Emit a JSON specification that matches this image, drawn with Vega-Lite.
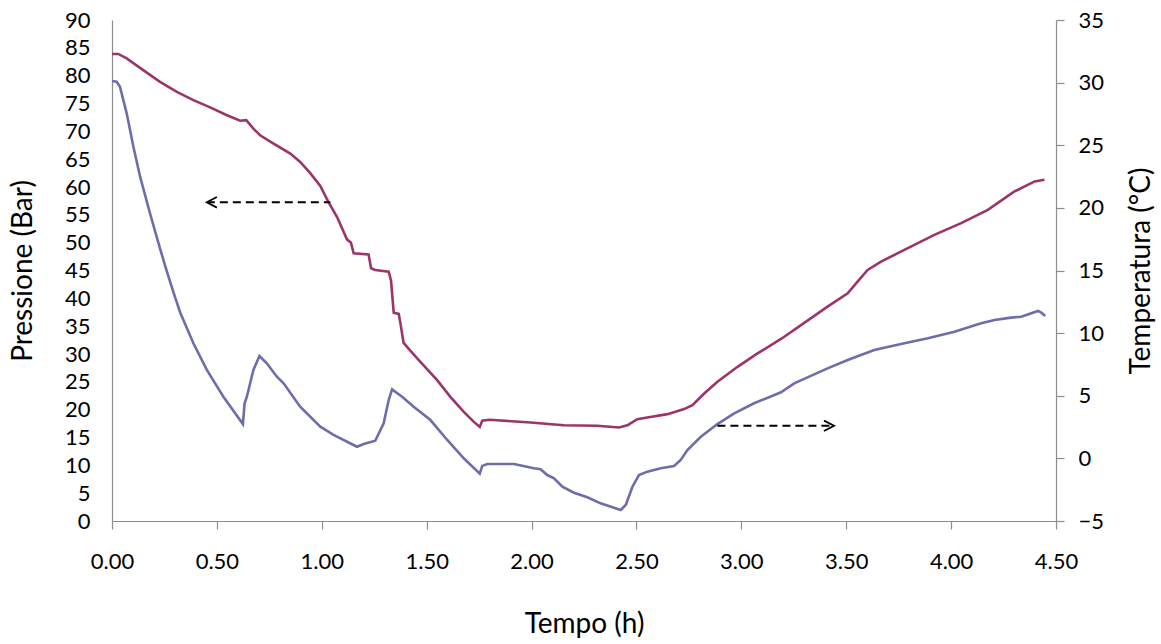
{
  "$schema": "https://vega.github.io/schema/vega-lite/v6.json",
  "width": 944,
  "height": 501,
  "autosize": {"type": "none"},
  "padding": {"left": 112, "top": 20, "right": 105, "bottom": 123},
  "background": "white",
  "config": {
    "font": "Lato",
    "view": {"stroke": null},
    "axis": {
      "labelFont": "Lato", "titleFont": "Lato", "labelColor": "#000000", "titleColor": "#000000",
      "labelFontSize": 22, "titleFontSize": 28, "titleFontWeight": "normal",
      "domainColor": "#8c8c8c", "tickColor": "#8c8c8c", "domainWidth": 1.2, "tickWidth": 1.2, "grid": false,
      "labelFlush": false, "labelOverlap": false, "labelBound": false
    }
  },
  "datasets": {
    "pressione": [
      {"t":0.000,"p":83.9},{"t":0.030,"p":83.9},{"t":0.070,"p":83.1},{"t":0.149,"p":81.0},{"t":0.229,"p":78.9},
      {"t":0.309,"p":77.1},{"t":0.388,"p":75.6},{"t":0.468,"p":74.3},{"t":0.548,"p":72.9},{"t":0.611,"p":71.9},
      {"t":0.640,"p":72.0},{"t":0.674,"p":70.5},{"t":0.706,"p":69.3},{"t":0.770,"p":67.8},{"t":0.850,"p":66.0},
      {"t":0.897,"p":64.5},{"t":0.945,"p":62.5},{"t":0.993,"p":60.2},{"t":1.032,"p":57.3},{"t":1.073,"p":54.6},
      {"t":1.120,"p":50.6},{"t":1.139,"p":50.0},{"t":1.152,"p":48.1},{"t":1.223,"p":47.9},{"t":1.235,"p":45.4},
      {"t":1.255,"p":45.1},{"t":1.319,"p":44.8},{"t":1.330,"p":43.2},{"t":1.343,"p":37.4},{"t":1.367,"p":37.2},
      {"t":1.375,"p":35.5},{"t":1.390,"p":32.0},{"t":1.422,"p":30.6},{"t":1.470,"p":28.6},{"t":1.550,"p":25.3},
      {"t":1.613,"p":22.3},{"t":1.677,"p":19.6},{"t":1.725,"p":17.8},{"t":1.753,"p":16.9},{"t":1.765,"p":18.0},
      {"t":1.800,"p":18.2},{"t":1.836,"p":18.1},{"t":1.995,"p":17.7},{"t":2.154,"p":17.2},{"t":2.313,"p":17.1},
      {"t":2.417,"p":16.8},{"t":2.457,"p":17.2},{"t":2.504,"p":18.3},{"t":2.552,"p":18.6},{"t":2.648,"p":19.2},
      {"t":2.727,"p":20.1},{"t":2.767,"p":20.8},{"t":2.823,"p":22.9},{"t":2.886,"p":25.0},{"t":2.982,"p":27.7},
      {"t":3.077,"p":30.1},{"t":3.189,"p":32.7},{"t":3.300,"p":35.6},{"t":3.411,"p":38.5},{"t":3.507,"p":40.9},
      {"t":3.554,"p":43.0},{"t":3.602,"p":45.1},{"t":3.666,"p":46.6},{"t":3.777,"p":48.7},{"t":3.920,"p":51.4},
      {"t":4.048,"p":53.5},{"t":4.175,"p":55.9},{"t":4.302,"p":59.2},{"t":4.398,"p":61.0},{"t":4.445,"p":61.3}
    ],
    "temperatura": [
      {"t":0.000,"T":30.13},{"t":0.022,"T":30.07},{"t":0.038,"T":29.67},{"t":0.070,"T":27.55},{"t":0.102,"T":24.88},
      {"t":0.134,"T":22.49},{"t":0.181,"T":19.57},{"t":0.229,"T":16.75},{"t":0.261,"T":14.95},{"t":0.293,"T":13.25},
      {"t":0.325,"T":11.65},{"t":0.388,"T":9.19},{"t":0.452,"T":7.06},{"t":0.531,"T":4.92},{"t":0.624,"T":2.74},
      {"t":0.632,"T":4.40},{"t":0.643,"T":4.92},{"t":0.674,"T":7.06},{"t":0.703,"T":8.17},{"t":0.738,"T":7.59},
      {"t":0.786,"T":6.52},{"t":0.818,"T":5.99},{"t":0.897,"T":4.13},{"t":0.993,"T":2.53},{"t":1.056,"T":1.87},
      {"t":1.168,"T":0.93},{"t":1.200,"T":1.15},{"t":1.255,"T":1.41},{"t":1.295,"T":2.80},{"t":1.319,"T":4.66},
      {"t":1.335,"T":5.51},{"t":1.383,"T":4.92},{"t":1.438,"T":4.13},{"t":1.518,"T":3.06},{"t":1.598,"T":1.47},
      {"t":1.677,"T":0.01},{"t":1.753,"T":-1.22},{"t":1.765,"T":-0.60},{"t":1.789,"T":-0.45},{"t":1.916,"T":-0.45},
      {"t":2.011,"T":-0.79},{"t":2.043,"T":-0.87},{"t":2.075,"T":-1.33},{"t":2.107,"T":-1.59},{"t":2.147,"T":-2.26},
      {"t":2.202,"T":-2.74},{"t":2.266,"T":-3.11},{"t":2.329,"T":-3.59},{"t":2.425,"T":-4.12},{"t":2.449,"T":-3.72},
      {"t":2.481,"T":-2.26},{"t":2.512,"T":-1.33},{"t":2.552,"T":-1.06},{"t":2.616,"T":-0.79},{"t":2.679,"T":-0.61},
      {"t":2.711,"T":-0.13},{"t":2.743,"T":0.67},{"t":2.807,"T":1.73},{"t":2.886,"T":2.74},{"t":2.966,"T":3.60},
      {"t":3.061,"T":4.40},{"t":3.189,"T":5.28},{"t":3.252,"T":5.99},{"t":3.411,"T":7.19},{"t":3.507,"T":7.85},
      {"t":3.570,"T":8.25},{"t":3.634,"T":8.65},{"t":3.761,"T":9.13},{"t":3.889,"T":9.59},{"t":4.016,"T":10.11},
      {"t":4.143,"T":10.78},{"t":4.207,"T":11.05},{"t":4.286,"T":11.24},{"t":4.334,"T":11.31},{"t":4.414,"T":11.77},
      {"t":4.430,"T":11.63},{"t":4.449,"T":11.37}
    ],
    "frecciaP": [{"t":0.452,"p":57.25},{"t":1.041,"p":57.25}],
    "puntaP": [{"t":0.500,"p":58.2,"o":1},{"t":0.452,"p":57.25,"o":2},{"t":0.500,"p":56.3,"o":3}],
    "frecciaT": [{"t":2.886,"T":2.60},{"t":3.442,"T":2.60}],
    "puntaT": [{"t":3.394,"T":3.01,"o":1},{"t":3.442,"T":2.60,"o":2},{"t":3.394,"T":2.19,"o":3}]
  },
  "encoding": {
    "x": {
      "field": "t", "type": "quantitative",
      "scale": {"domain": [0, 4.5], "nice": false, "zero": false},
      "axis": {
        "title": "Tempo (h)", "values": [0,0.5,1,1.5,2,2.5,3,3.5,4,4.5], "format": ".2f",
        "tickSize": 8, "labelPadding": 22, "titlePadding": 38
      }
    }
  },
  "layer": [
    {
      "encoding": {
        "y": {
          "field": "p", "type": "quantitative",
          "scale": {"domain": [0, 90], "nice": false},
          "axis": {
            "title": "Pressione (Bar)", "orient": "left",
            "values": [0,5,10,15,20,25,30,35,40,45,50,55,60,65,70,75,80,85,90],
            "ticks": false, "labelPadding": 22, "titlePadding": 27
          }
        }
      },
      "layer": [
        {"data": {"name": "pressione"}, "mark": {"type": "line", "color": "#9c3469", "strokeWidth": 2.6}},
        {"data": {"name": "frecciaP"}, "mark": {"type": "line", "color": "#000000", "strokeWidth": 2, "strokeDash": [8, 5]}},
        {"data": {"name": "puntaP"}, "mark": {"type": "line", "color": "#000000", "strokeWidth": 1.8}, "encoding": {"order": {"field": "o", "type": "quantitative"}}}
      ]
    },
    {
      "encoding": {
        "y": {
          "field": "T", "type": "quantitative",
          "scale": {"domain": [-5, 35], "nice": false, "zero": false},
          "axis": {
            "title": "Temperatura (°C)", "orient": "right",
            "values": [-5,0,5,10,15,20,25,30,35],
            "tickSize": 8, "labelPadding": 14, "titlePadding": 52, "titleAngle": 270
          }
        }
      },
      "layer": [
        {"data": {"name": "temperatura"}, "mark": {"type": "line", "color": "#6d6dab", "strokeWidth": 2.6}},
        {"data": {"name": "frecciaT"}, "mark": {"type": "line", "color": "#000000", "strokeWidth": 2, "strokeDash": [8, 5]}},
        {"data": {"name": "puntaT"}, "mark": {"type": "line", "color": "#000000", "strokeWidth": 1.8}, "encoding": {"order": {"field": "o", "type": "quantitative"}}}
      ]
    }
  ],
  "resolve": {"scale": {"y": "independent"}}
}
